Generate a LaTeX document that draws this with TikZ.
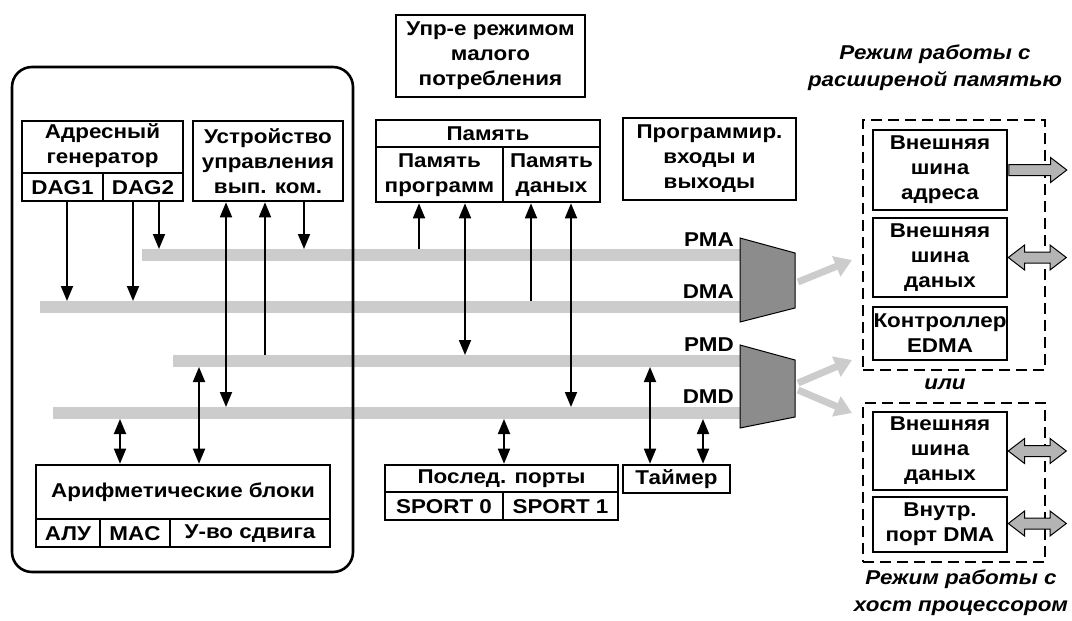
\documentclass[tikz,border=0pt]{standalone}
\usepackage{fontspec}
\setmainfont{Liberation Sans}[FakeStretch=1.12]
\usetikzlibrary{arrows.meta,calc,shapes.arrows}
\definecolor{busgray}{HTML}{CCCCCC}
\definecolor{muxgray}{HTML}{8C8C8C}
\definecolor{blkgray}{HTML}{B4B4B4}
\tikzset{
  fnt/.style={font=\bfseries\fontsize{20}{25}\selectfont},
  box/.style={draw, line width=2.6pt, inner sep=0pt},
  txt/.style={fnt, inner sep=0pt, align=center},
  itxt/.style={inner sep=0pt, align=center, font=\bfseries\itshape\fontsize{20}{27}\selectfont},
  bus/.style={line width=12pt, draw=busgray},
  arr/.style={line width=1.8pt, -{Triangle[length=15pt,width=12pt]}},
  darr/.style={line width=1.8pt, {Triangle[length=15pt,width=12pt]}-{Triangle[length=15pt,width=12pt]}},
  garr/.style={line width=7pt, draw=busgray, -{Triangle[length=17pt,width=21pt]}},
  mux/.style={draw=black, line width=1pt, fill=muxgray},
  dbox/.style={draw, line width=1.6pt, dash pattern=on 11pt off 6pt},
  sarr/.style={single arrow, draw, line width=1pt, fill=blkgray, inner sep=5pt, single arrow head extend=7pt, single arrow tip angle=75, minimum height=58pt, anchor=tail},
  warr/.style={double arrow, draw, line width=1pt, fill=blkgray, inner sep=5pt, double arrow head extend=7pt, double arrow tip angle=75, minimum height=58pt},
}
\begin{document}
\begin{tikzpicture}[x=1pt,y=-1pt]
\useasboundingbox (0,0) rectangle (1072,621);

% buses
\coordinate (pma) at (142,255);
\coordinate (dma) at (40,307);
\coordinate (pmd) at (173,361);
\coordinate (dmd) at (53,413);
\coordinate (pmaE) at (740,255);
\coordinate (dmaE) at (740,307);
\coordinate (pmdE) at (740,361);
\coordinate (dmdE) at (740,413);
\draw[bus] (pma) -- (pmaE);
\draw[bus] (dma) -- (dmaE);
\draw[bus] (pmd) -- (pmdE);
\draw[bus] (dmd) -- (dmdE);

% core outline
\node[draw, line width=2.6pt, rounded corners=20pt, minimum width=341pt, minimum height=505pt, inner sep=0pt] (core) at (182.5,319.5) {};

% address generator
\node[box, minimum width=161pt, minimum height=80pt] (ag) at (102.5,161) {};
\draw[line width=1.6pt] (22,173) -- (183,173);
\draw[line width=1.6pt] (103,173) -- (103,201);
\node[txt] (agt) at (102.5,146) {\fontsize{20}{22}\selectfont Адресный\\генератор};
\node[txt] (dag1) at (62.5,188) {DAG1};
\node[txt] (dag2) at (143,188) {DAG2};

% control unit
\node[box, minimum width=150pt, minimum height=80pt] (cu) at (268,161) {};
\node[txt] (cut) at (268,161) {Устройство\\управления\\вып. ком.};

% low power
\node[box, minimum width=189pt, minimum height=82pt] (lp) at (490.5,56) {};
\node[txt] (lpt) at (490.5,56) {Упр-е режимом\\малого\\потребления};

% memory
\node[box, minimum width=224pt, minimum height=82pt] (mem) at (488,161) {};
\draw[line width=1.6pt] (376,147) -- (600,147);
\draw[line width=1.6pt] (503,147) -- (503,202);
\node[txt] (memt) at (488,134) {Память};
\node[txt] (pmt) at (439.5,175) {\fontsize{20}{23}\selectfont Память\\программ};
\node[txt] (dmt) at (551.5,175) {\fontsize{20}{23}\selectfont Память\\даных};

% programmable IO
\node[box, minimum width=173pt, minimum height=82pt] (pio) at (709.5,159) {};
\node[txt] (piot) at (709.5,159) {Программир.\\входы и\\выходы};

% serial ports
\node[box, minimum width=233pt, minimum height=55pt] (sp) at (501.5,492.5) {};
\draw[line width=1.6pt] (385,492) -- (618,492);
\draw[line width=1.6pt] (503,492) -- (503,520);
\node[txt] (spt) at (501.5,479) {Послед. порты};
\node[txt] (sp0) at (444,506.5) {SPORT 0};
\node[txt] (sp1) at (560.5,506.5) {SPORT 1};

% timer
\node[box, minimum width=107pt, minimum height=28pt] (tm) at (676.5,479) {};
\node[txt] (tmt) at (676.5,479) {Таймер};

% arithmetic units
\node[box, minimum width=294pt, minimum height=82pt] (alu) at (183,506) {};
\draw[line width=1.6pt] (36,519) -- (330,519);
\draw[line width=1.6pt] (100,519) -- (100,547);
\draw[line width=1.6pt] (170,519) -- (170,547);
\node[txt] (alut) at (183,492) {Арифметические блоки};
\node[txt] (alu1) at (68,533.5) {АЛУ};
\node[txt] (alu2) at (135,533.5) {MAC};
\node[txt] (alu3) at (250,533.5) {У-во сдвига};

% bus labels
\node[txt, anchor=east] (lpma) at (734,240) {PMA};
\node[txt, anchor=east] (ldma) at (734,292) {DMA};
\node[txt, anchor=east] (lpmd) at (734,345) {PMD};
\node[txt, anchor=east] (ldmd) at (734,397) {DMD};

% multiplexers
\draw[mux] (740,238) -- (795,253) -- (795,308) -- (740,322) -- cycle;
\draw[mux] (740,345) -- (795,360) -- (795,417) -- (740,428) -- cycle;
\coordinate (m1o) at (798,282);
\coordinate (m2o) at (798,383);
\coordinate (m3o) at (798,390);
\coordinate (g1) at (852,260);
\coordinate (g2) at (852,360);
\coordinate (g3) at (852,413);
\draw[garr] (m1o) -- (g1);
\draw[garr] (m2o) -- (g2);
\draw[garr] (m3o) -- (g3);

% connectors
\draw[arr, shorten >=6pt] (ag.south -| 67,0) -- (dma -| 67,0);
\draw[arr, shorten >=6pt] (ag.south -| 133,0) -- (dma -| 133,0);
\draw[arr, shorten >=6pt] (ag.south -| 159,0) -- (pma -| 159,0);
\draw[darr, shorten >=6pt] (cu.south -| 226,0) -- (dmd -| 226,0);
\draw[arr, shorten <=6pt] (pmd -| 265,0) -- (cu.south -| 265,0);
\draw[arr, shorten >=6pt] (cu.south -| 304,0) -- (pma -| 304,0);
\draw[arr, shorten <=6pt] (pma -| 419,0) -- (mem.south -| 419,0);
\draw[darr, shorten >=6pt] (mem.south -| 465,0) -- (pmd -| 465,0);
\draw[arr, shorten <=6pt] (dma -| 531,0) -- (mem.south -| 531,0);
\draw[darr, shorten >=6pt] (mem.south -| 571,0) -- (dmd -| 571,0);
\draw[darr, shorten <=6pt] (pmd -| 650,0) -- (tm.north -| 650,0);
\draw[darr, shorten <=6pt] (dmd -| 703,0) -- (tm.north -| 703,0);
\draw[darr, shorten <=6pt] (dmd -| 504,0) -- (sp.north -| 504,0);
\draw[darr, shorten <=6pt] (dmd -| 120,0) -- (alu.north -| 120,0);
\draw[darr, shorten <=6pt] (pmd -| 199,0) -- (alu.north -| 199,0);

% right side: extended memory mode
\node[itxt] (modeA) at (935,68) {Режим работы с\\расширеной памятью};
\node[dbox, minimum width=182pt, minimum height=250pt] (d1) at (954,245) {};
\node[box, minimum width=134pt, minimum height=80pt] (ea) at (940,170) {};
\node[txt] (eat) at (940,170) {Внешняя\\шина\\адреса};
\node[box, minimum width=134pt, minimum height=79pt] (ed) at (940,257.5) {};
\node[txt] (edt) at (940,257.5) {Внешняя\\шина\\даных};
\node[box, minimum width=134pt, minimum height=53pt] (edma) at (940,333.5) {};
\node[txt] (edmat) at (940,333.5) {Контроллер\\EDMA};
\node[sarr] (eaa) at (ea.east) {};
\node[warr] (eda) at ($(ed.east)+(29,0)$) {};

\node[itxt] (or) at (945,384) {или};

% host mode
\node[dbox, minimum width=182pt, minimum height=159pt] (d2) at (954,482.5) {};
\node[box, minimum width=134pt, minimum height=78pt] (ed2) at (940,451) {};
\node[txt] (ed2t) at (940,451) {Внешняя\\шина\\даных};
\node[box, minimum width=134pt, minimum height=55pt] (idma) at (940,524.5) {};
\node[txt] (idmat) at (940,524.5) {Внутр.\\порт DMA};
\node[warr] (ed2a) at ($(ed2.east)+(29,0)$) {};
\node[warr] (idmaa) at ($(idma.east)+(29,-1)$) {};
\node[itxt] (modeB) at (961,593) {Режим работы с\\хост процессором};
\end{tikzpicture}
\end{document}
